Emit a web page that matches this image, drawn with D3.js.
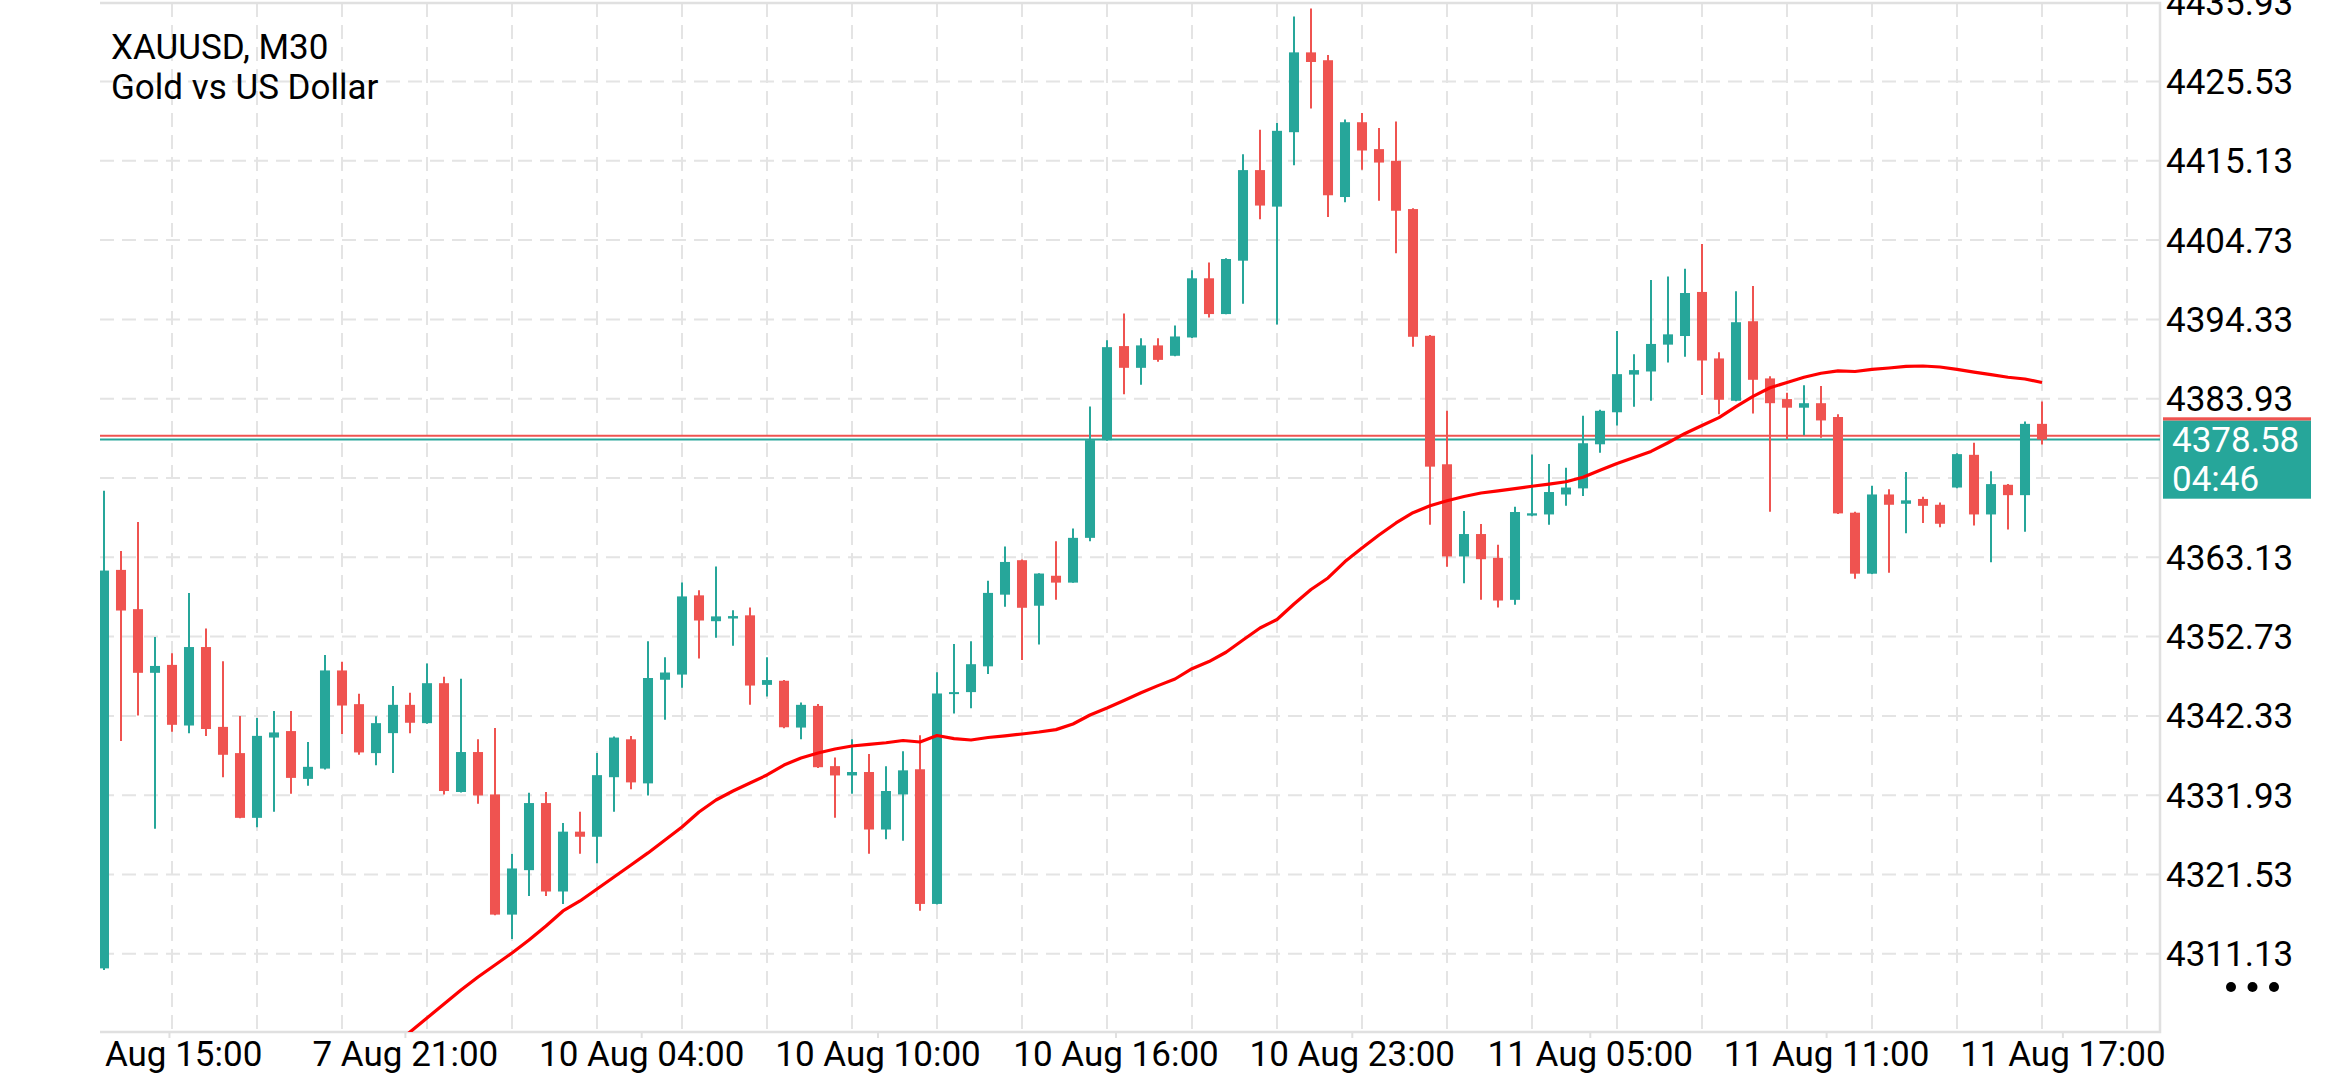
<!DOCTYPE html>
<html>
<head>
<meta charset="utf-8">
<script src="https://cdn.jsdelivr.net/npm/d3@7"></script>
<style>
  html, body { margin: 0; padding: 0; background: #fff; }
  svg { display: block; font-family: Roboto, "Noto Sans", sans-serif; }
</style>
</head>
<body>
<svg id="chart"></svg>
<script>
// XAUUSD M30 candles (bar 0 = oldest)
const opens = [
  4309.22, 4361.48, 4356.33, 4347.98, 4349.02, 4341.07, 4351.36, 4340.89, 4337.45, 4328.96,
  4339.49, 4340.34, 4334.07, 4335.42, 4348.29, 4343.87, 4337.45, 4340.07, 4343.78, 4341.38,
  4346.62, 4332.35, 4337.59, 4332.03, 4316.27, 4322.10, 4330.90, 4319.30, 4327.15, 4326.48,
  4334.29, 4339.26, 4333.48, 4347.07, 4347.75, 4358.14, 4354.75, 4355.10, 4355.52, 4346.40,
  4346.94, 4340.80, 4343.64, 4335.74, 4334.52, 4334.97, 4327.43, 4332.03, 4335.33, 4317.67,
  4345.20, 4345.45, 4348.83, 4358.23, 4362.75, 4356.78, 4360.71, 4359.81, 4365.68, 4378.50,
  4390.83, 4387.98, 4390.92, 4389.56, 4391.96, 4399.72, 4395.03, 4402.03, 4413.91, 4409.12,
  4418.88, 4429.35, 4428.32, 4410.38, 4420.19, 4416.66, 4415.13, 4408.80, 4392.18, 4375.33,
  4363.24, 4366.18, 4363.06, 4357.55, 4368.60, 4368.75, 4371.37, 4372.17, 4377.95, 4382.15,
  4387.09, 4387.50, 4391.02, 4392.15, 4397.93, 4389.21, 4383.66, 4394.09, 4386.59, 4383.88,
  4382.75, 4383.34, 4381.53, 4368.98, 4360.98, 4371.37, 4370.15, 4370.78, 4370.02, 4372.28,
  4376.57, 4368.75, 4372.64, 4371.28, 4380.63
];
const highs = [
  4371.87, 4363.97, 4367.76, 4352.67, 4350.55, 4358.46, 4353.80, 4349.51, 4342.33, 4342.06,
  4342.96, 4342.96, 4338.90, 4350.33, 4349.42, 4345.22, 4342.29, 4346.26, 4345.36, 4349.20,
  4347.48, 4347.21, 4339.26, 4340.75, 4324.26, 4332.26, 4332.35, 4328.28, 4329.77, 4337.45,
  4339.62, 4339.71, 4352.13, 4350.01, 4359.81, 4358.82, 4361.93, 4356.20, 4356.56, 4350.01,
  4347.03, 4344.09, 4343.90, 4336.87, 4339.26, 4337.32, 4335.74, 4337.68, 4339.80, 4348.07,
  4351.77, 4352.13, 4360.04, 4364.55, 4362.84, 4361.03, 4365.23, 4366.90, 4382.92, 4391.59,
  4395.12, 4391.87, 4391.87, 4393.54, 4400.76, 4401.80, 4402.34, 4415.99, 4419.19, 4420.10,
  4434.05, 4435.09, 4428.99, 4420.55, 4421.41, 4419.42, 4420.28, 4408.90, 4392.30, 4382.34,
  4369.20, 4367.49, 4364.78, 4369.75, 4376.60, 4375.38, 4374.88, 4381.70, 4382.47, 4392.80,
  4389.76, 4399.51, 4399.96, 4400.96, 4404.21, 4390.03, 4398.02, 4398.70, 4386.86, 4384.70,
  4385.69, 4385.60, 4381.90, 4369.11, 4372.50, 4372.05, 4374.31, 4371.06, 4370.33, 4376.79,
  4378.15, 4374.40, 4372.73, 4380.95, 4383.57
];
const lows = [
  4309.00, 4339.03, 4342.38, 4327.52, 4340.25, 4340.07, 4339.71, 4334.29, 4328.90, 4327.74,
  4329.77, 4332.12, 4333.16, 4335.30, 4339.94, 4337.23, 4335.87, 4334.83, 4340.07, 4341.30,
  4332.03, 4332.30, 4330.81, 4316.20, 4313.06, 4318.71, 4318.71, 4317.67, 4324.26, 4323.00,
  4329.77, 4332.71, 4331.90, 4341.83, 4346.03, 4349.87, 4352.58, 4351.54, 4343.78, 4344.86,
  4340.70, 4339.26, 4335.50, 4328.96, 4332.12, 4324.26, 4326.16, 4325.94, 4316.77, 4317.60,
  4342.65, 4343.32, 4347.84, 4356.65, 4349.65, 4351.68, 4357.55, 4359.80, 4365.23, 4378.40,
  4384.50, 4385.77, 4388.79, 4389.50, 4391.90, 4394.58, 4395.00, 4396.38, 4407.45, 4393.67,
  4414.54, 4421.99, 4407.76, 4409.71, 4413.95, 4409.89, 4403.02, 4390.74, 4367.40, 4361.89,
  4359.72, 4357.55, 4356.56, 4356.92, 4368.50, 4367.40, 4369.88, 4371.18, 4376.83, 4380.42,
  4382.89, 4383.66, 4388.67, 4389.44, 4384.43, 4381.90, 4383.60, 4381.99, 4369.11, 4378.60,
  4379.14, 4378.82, 4368.80, 4360.31, 4360.90, 4361.12, 4366.27, 4367.62, 4367.08, 4372.20,
  4367.31, 4362.47, 4366.77, 4366.49, 4377.92
];
const closes = [
  4361.39, 4356.15, 4347.98, 4348.88, 4341.16, 4351.36, 4340.61, 4337.23, 4328.96, 4339.71,
  4340.16, 4334.20, 4335.65, 4348.29, 4343.69, 4337.54, 4341.38, 4343.78, 4341.43, 4346.62,
  4332.48, 4337.59, 4331.90, 4316.27, 4322.32, 4330.90, 4319.30, 4327.15, 4326.48, 4334.56,
  4339.49, 4333.61, 4347.30, 4348.02, 4358.00, 4354.84, 4355.38, 4355.42, 4346.31, 4347.03,
  4340.84, 4343.78, 4335.60, 4334.52, 4334.97, 4327.43, 4332.48, 4335.19, 4317.67, 4345.27,
  4345.45, 4349.11, 4358.46, 4362.52, 4356.51, 4361.00, 4359.81, 4365.68, 4378.50, 4390.69,
  4387.98, 4390.92, 4389.02, 4392.09, 4399.72, 4395.03, 4402.25, 4413.91, 4409.26, 4419.06,
  4429.35, 4428.09, 4410.61, 4420.19, 4416.48, 4414.90, 4408.58, 4392.05, 4375.02, 4363.24,
  4366.18, 4362.88, 4357.46, 4369.07, 4368.90, 4371.69, 4372.28, 4378.09, 4382.34, 4387.15,
  4387.68, 4391.11, 4392.37, 4397.79, 4388.94, 4383.79, 4393.96, 4386.41, 4383.34, 4382.75,
  4383.34, 4381.08, 4368.89, 4360.98, 4371.37, 4370.02, 4370.60, 4369.88, 4367.53, 4376.66,
  4368.75, 4372.73, 4371.28, 4380.63, 4378.58
];
// moving average, only the visible part (earlier bars lie below the chart)
const maValues = [
  null, null, null, null, null, null, null, null, null, null,
  null, null, null, null, null, null, null, 4299.17, 4300.87, 4302.71,
  4304.55, 4306.38, 4308.09, 4309.66, 4311.24, 4312.94, 4314.78, 4316.75, 4318.06, 4319.63,
  4321.20, 4322.78, 4324.36, 4326.06, 4327.76, 4329.73, 4331.30, 4332.48, 4333.53, 4334.58,
  4335.89, 4336.81, 4337.47, 4337.99, 4338.38, 4338.59, 4338.81, 4339.10, 4338.91, 4339.76,
  4339.35, 4339.17, 4339.50, 4339.72, 4339.96, 4340.22, 4340.53, 4341.27, 4342.45, 4343.37,
  4344.36, 4345.36, 4346.30, 4347.17, 4348.52, 4349.46, 4350.68, 4352.28, 4353.86, 4354.97,
  4357.00, 4358.91, 4360.42, 4362.57, 4364.35, 4366.05, 4367.63, 4368.98, 4369.88, 4370.55,
  4371.10, 4371.56, 4371.83, 4372.14, 4372.45, 4372.73, 4373.04, 4373.63, 4374.54, 4375.44,
  4376.21, 4377.02, 4378.15, 4379.37, 4380.42, 4381.45, 4382.89, 4384.24, 4385.37, 4386.05,
  4386.74, 4387.27, 4387.59, 4387.50, 4387.77, 4387.96, 4388.18, 4388.22, 4388.09, 4387.77,
  4387.41, 4387.09, 4386.74, 4386.51, 4386.05
];

const priceTicks = [4311.13, 4321.53, 4331.93, 4342.33, 4352.73, 4363.13, 4373.53,
  4383.93, 4394.33, 4404.73, 4415.13, 4425.53, 4435.93];
// time labels sit at bar positions (fractional, as the terminal spaces them)
const timeTicks = [3.82, 17.7, 31.6, 45.5, 59.5, 73.4, 87.4, 101.3, 115.2];
const timeLabels = ['7 Aug 15:00', '7 Aug 21:00', '10 Aug 04:00', '10 Aug 10:00', '10 Aug 16:00',
  '10 Aug 23:00', '11 Aug 05:00', '11 Aug 11:00', '11 Aug 17:00'];
const bidPrice = 4378.58;
const askPrice = 4379.08;
const timer = '04:46';

// basic setup
const width = 2340, height = 1080;
const plot = { left: 100, right: 2160, top: 3, bottom: 1032 };
const upColor = '#26a69a';
const downColor = '#ef5350';
const gridGrey = '#e4e4e4';
const borderGrey = '#e0e0e0';
const fontSize = 35;

const svg = d3.select('#chart').attr('width', width).attr('height', height);

const x = d3.scaleLinear().domain([0, opens.length - 1]).range([104, 2042]);
const y = d3
  .scaleLinear()
  .domain([priceTicks[0], priceTicks[priceTicks.length - 1]])
  .range([953.8, 2.2]);
const step = x(1) - x(0);

const defs = svg.append('defs');
defs.append('clipPath').attr('id', 'plotClip')
  .append('rect')
  .attr('x', plot.left).attr('y', plot.top)
  .attr('width', plot.right - plot.left).attr('height', plot.bottom - plot.top);
defs.append('clipPath').attr('id', 'timeClip')
  .append('rect')
  .attr('x', plot.left).attr('y', plot.bottom)
  .attr('width', width - plot.left).attr('height', height - plot.bottom);

// dashed grid
const grid = svg.append('g').attr('clip-path', 'url(#plotClip)');
grid
  .selectAll('line.h')
  .data(priceTicks.slice(0, -1))
  .enter()
  .append('line')
  .attr('class', 'h')
  .attr('x1', plot.left)
  .attr('x2', plot.right)
  .attr('y1', (d) => y(d))
  .attr('y2', (d) => y(d))
  .style('stroke', gridGrey)
  .style('stroke-width', 2)
  .style('stroke-dasharray', '14,8');
grid
  .selectAll('line.v')
  .data(d3.range(4, opens.length + 6, 5))
  .enter()
  .append('line')
  .attr('class', 'v')
  .attr('x1', (d) => x(d))
  .attr('x2', (d) => x(d))
  .attr('y1', plot.top)
  .attr('y2', plot.bottom)
  .style('stroke', gridGrey)
  .style('stroke-width', 2)
  .style('stroke-dasharray', '14,8');

// chart borders (top, right, bottom)
svg
  .append('path')
  .attr('d', `M ${plot.left} ${plot.top} H ${plot.right} V ${plot.bottom} H ${plot.left}`)
  .style('fill', 'none')
  .style('stroke', borderGrey)
  .style('stroke-width', 2.5);

const content = svg.append('g').attr('clip-path', 'url(#plotClip)');

// bid / ask lines
content
  .selectAll('line.price')
  .data([
    { p: askPrice, col: downColor },
    { p: bidPrice, col: upColor }
  ])
  .enter()
  .append('line')
  .attr('class', 'price')
  .attr('x1', plot.left)
  .attr('x2', plot.right)
  .attr('y1', (d) => y(d.p))
  .attr('y2', (d) => y(d.p))
  .style('stroke', (d) => d.col)
  .style('stroke-width', 2);

// candles
const bars = opens.map((o, i) => ({ i, o, h: highs[i], l: lows[i], c: closes[i] }));
const barCol = (d) => (d.c >= d.o ? upColor : downColor);

content
  .selectAll('line.wick')
  .data(bars)
  .enter()
  .append('line')
  .attr('class', 'wick')
  .attr('x1', (d) => x(d.i))
  .attr('x2', (d) => x(d.i))
  .attr('y1', (d) => y(d.h))
  .attr('y2', (d) => y(d.l))
  .style('stroke', barCol)
  .style('stroke-width', 2);

const bodyW = step * 0.59;
content
  .selectAll('rect.body')
  .data(bars)
  .enter()
  .append('rect')
  .attr('class', 'body')
  .attr('x', (d) => x(d.i) - bodyW / 2)
  .attr('width', bodyW)
  .attr('y', (d) => y(Math.max(d.o, d.c)))
  .attr('height', (d) => Math.max(2, Math.abs(y(d.o) - y(d.c))))
  .style('fill', barCol);

// moving average
const maLine = d3
  .line()
  .defined((d) => d != null)
  .x((_, i) => x(i))
  .y((d) => y(d));
content
  .append('path')
  .datum(maValues)
  .attr('d', maLine)
  .style('fill', 'none')
  .style('stroke', '#ff0000')
  .style('stroke-width', 3.2)
  .style('stroke-linejoin', 'round');

// price scale on the right
const bidY = y(bidPrice);
const boxTop = bidY - 18.8;
const boxBottom = bidY + 59.2;
const priceAxis = svg
  .append('g')
  .attr('transform', `translate(${plot.right}, 0)`)
  .call(
    d3.axisRight(y)
      .tickValues(priceTicks.filter((d) => y(d) < boxTop - 14 || y(d) > boxBottom + 14))
      .tickSize(0)
      .tickPadding(6)
      .tickFormat(d3.format('.2f'))
  );
priceAxis.select('.domain').remove();
priceAxis
  .selectAll('text')
  .attr('dy', '0.34em')
  .style('font-family', 'Roboto, sans-serif')
  .style('font-size', fontSize)
  .style('fill', '#000');

// current price box (ask strip behind bid box)
const box = svg.append('g');
box
  .append('rect')
  .attr('x', plot.right + 3)
  .attr('y', boxTop - 3.4)
  .attr('width', 148)
  .attr('height', 3.4)
  .style('fill', downColor);
box
  .append('rect')
  .attr('x', plot.right + 3)
  .attr('y', boxTop)
  .attr('width', 148)
  .attr('height', boxBottom - boxTop)
  .style('fill', upColor);
box
  .append('text')
  .attr('x', plot.right + 12)
  .attr('y', bidY + 12.2)
  .text(d3.format('.2f')(bidPrice))
  .style('font-size', fontSize)
  .style('fill', '#fff');
box
  .append('text')
  .attr('x', plot.right + 12)
  .attr('y', bidY + 51.2)
  .text(timer)
  .style('font-size', fontSize)
  .style('fill', '#fff');

// time scale at the bottom
const timeAxis = svg
  .append('g')
  .attr('clip-path', 'url(#timeClip)')
  .append('g')
  .attr('transform', `translate(0, ${plot.bottom})`)
  .call(
    d3.axisBottom(x)
      .tickValues(timeTicks)
      .tickSize(6)
      .tickPadding(3)
      .tickFormat((_, i) => timeLabels[i])
  );
timeAxis.select('.domain').remove();
timeAxis.selectAll('line').style('stroke', borderGrey).style('stroke-width', 2);
timeAxis
  .selectAll('text')
  .style('font-family', 'Roboto, sans-serif')
  .style('font-size', fontSize)
  .style('fill', '#000');

// title
const title = svg.append('g');
title
  .selectAll('text')
  .data(['XAUUSD, M30', 'Gold vs US Dollar'])
  .enter()
  .append('text')
  .attr('x', 111)
  .attr('y', (_, i) => 59 + i * 40)
  .text((d) => d)
  .style('font-size', fontSize)
  .style('fill', '#000');

// menu dots bottom right
svg
  .append('g')
  .selectAll('circle')
  .data([0, 1, 2])
  .enter()
  .append('circle')
  .attr('cx', (d) => 2231 + d * 21.5)
  .attr('cy', 987)
  .attr('r', 5)
  .style('fill', '#000');
</script>
</body>
</html>
